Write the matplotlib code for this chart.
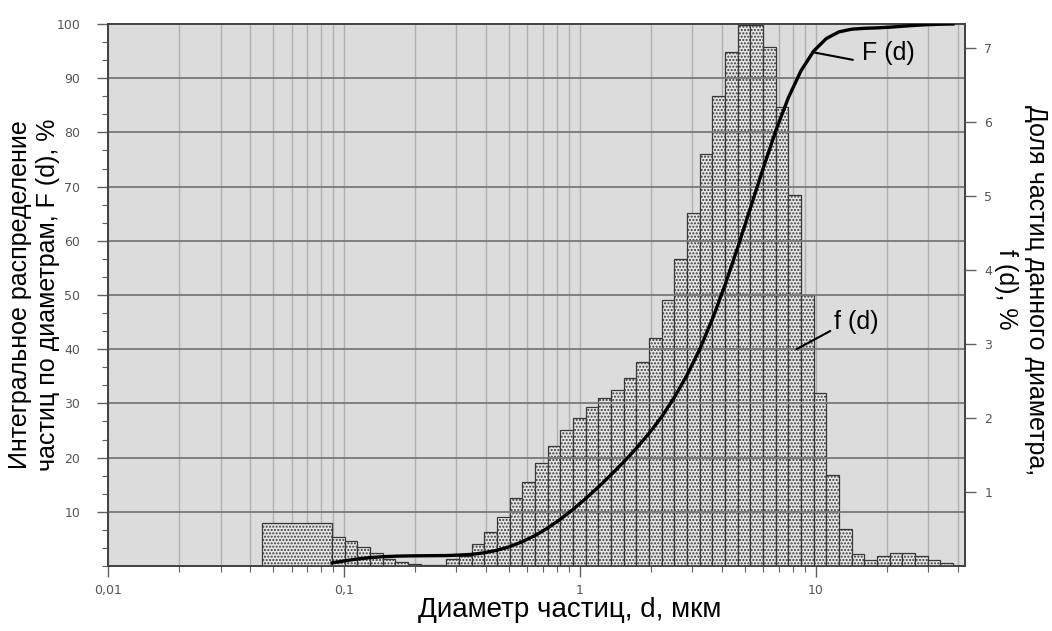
import numpy as np
import matplotlib
matplotlib.use("Agg")
import matplotlib.pyplot as plt
from matplotlib.ticker import FixedLocator, NullFormatter, LogLocator

# bin edges of the size classes, мкм (first class is a wide one)
edges = [0.045, 0.0891, 0.1009, 0.1142, 0.1292, 0.1462, 0.1655, 0.1873, 0.2120,
         0.2399, 0.2715, 0.3072, 0.3476, 0.3934, 0.4452, 0.5038, 0.5702, 0.6453,
         0.7303, 0.8265, 0.9353, 1.0583, 1.1978, 1.3555, 1.5340, 1.7361, 1.9646,
         2.2233, 2.5159, 2.8479, 3.2226, 3.6468, 4.1277, 4.6710, 5.2856, 5.9812,
         6.7701, 7.6614, 8.6696, 9.8130, 11.105, 12.566, 14.220, 16.095, 18.214,
         20.611, 23.331, 26.403, 29.878, 33.81, 38.26]

# share of particles in each class, f(d), %
share = [0.577, 0.385, 0.338, 0.255, 0.171, 0.097, 0.05, 0.025, 0.02, 0.02,
         0.09, 0.13, 0.293, 0.464, 0.666, 0.914, 1.139, 1.396, 1.621, 1.837,
         1.995, 2.143, 2.273, 2.377, 2.543, 2.76, 3.075, 3.593, 4.15, 4.764,
         5.565, 6.35, 6.946, 7.31, 7.31, 7.006, 6.195, 5.011, 3.66, 2.33,
         1.23, 0.50, 0.16, 0.08, 0.13, 0.17, 0.17, 0.13, 0.08, 0.045]

xticks = [0.01, 0.1, 1, 10]
xtick_labels = ["0,01", "0,1", "1", "10"]
left_ticks = [10, 20, 30, 40, 50, 60, 70, 80, 90, 100]
right_ticks = [1, 2, 3, 4, 5, 6, 7]

edges = np.array(edges)
share = np.array(share)
# integral distribution F(d) from the class shares
F = np.cumsum(share) / share.sum() * 100

plt.rcParams['hatch.linewidth'] = 1.0

fig = plt.figure(figsize=(10.52, 6.31), dpi=100)
ax = fig.add_axes([0.1027, 0.103, 0.8146, 0.859])
ax2 = ax.twinx()

# right axis: bars + vertical grid, sits behind
ax2.set_zorder(1)
ax.set_zorder(2)
ax.patch.set_visible(False)
ax2.patch.set_visible(True)
ax2.set_facecolor('#dcdcdc')

ax2.bar(edges[:-1], share, width=np.diff(edges), align='edge',
        facecolor='#e6e6e6', edgecolor='#383838', hatch='.....', linewidth=0.9,
        zorder=3)

ax.set_xscale('log')
ax.set_xlim(0.01, 43)
ax.set_ylim(0, 100)
ax2.set_ylim(0, 7.32)

ax2.xaxis.set_visible(True)
ax2.tick_params(axis='x', which='both', bottom=False, top=False,
                labelbottom=False, labeltop=False)
ax2.grid(axis='x', which='both', color='#b0b0b0', linewidth=1.0, zorder=0)
ax2.set_axisbelow(True)

# left axis: horizontal grid over bars, F(d) line
ax.grid(axis='y', which='major', color='#787878', linewidth=1.3)
ax.plot(edges[1:], F, color='black', linewidth=2.4, zorder=5)

ax.xaxis.set_major_locator(FixedLocator(xticks))
ax.set_xticklabels(xtick_labels)
ax.xaxis.set_minor_locator(LogLocator(base=10, subs=np.arange(2, 10), numticks=20))
ax.xaxis.set_minor_formatter(NullFormatter())

ax.set_yticks(left_ticks)
ax.set_yticks(np.arange(0, 100, 10 / 3), minor=True)
ax2.set_yticks(right_ticks)

tick_color = '#555555'
for a in (ax, ax2):
    a.tick_params(axis='both', which='major', direction='out', length=8,
                  width=1, color='#606060', labelcolor=tick_color, labelsize=9)
    a.tick_params(axis='both', which='minor', direction='out', length=4,
                  width=0.8, color='#606060')
    for s in a.spines.values():
        s.set_color('#404040')
        s.set_linewidth(1.2)
ax.tick_params(axis='y', which='major', pad=12)
ax2.tick_params(axis='y', which='major', pad=6)
ax.tick_params(axis='x', which='major', length=8, pad=5)

for lbl in ax.get_xticklabels() + ax.get_yticklabels() + ax2.get_yticklabels():
    lbl.set_family('DejaVu Sans')

lab_font = dict(family='Liberation Sans', color='black')
ax.set_xlabel("Диаметр частиц, d, мкм", fontsize=20, **lab_font)
ax.xaxis.label.set_va('center')
ax.xaxis.set_label_coords(0.539, -0.081)

ax.set_ylabel("Интегральное распределение\nчастиц по диаметрам, F (d), %",
              fontsize=18, linespacing=1.25, **lab_font)
ax.yaxis.label.set_va('center')
ax.yaxis.label.set_ha('center')
ax.yaxis.set_label_coords(-0.0863, 0.5)

ax2.set_ylabel("Доля частиц данного диаметра,\nf (d), %", rotation=-90,
               fontsize=18, linespacing=1.3, **lab_font)
ax2.yaxis.label.set_rotation_mode('default')
ax2.yaxis.label.set_va('center')
ax2.yaxis.label.set_ha('center')
ax2.yaxis.set_label_coords(1.0655, 0.51)

ax.annotate("F (d)", xy=(9.7, 94.8), xytext=(15.8, 94.6),
            ha='left', va='center', family='Liberation Sans', fontsize=18,
            arrowprops=dict(arrowstyle='-', color='black', lw=1.5,
                            relpos=(0, 0.15), shrinkA=5, shrinkB=0))
ax.annotate("f (d)", xy=(8.3, 40.0), xytext=(12.0, 45.0),
            ha='left', va='center', family='Liberation Sans', fontsize=18,
            arrowprops=dict(arrowstyle='-', color='black', lw=1.5,
                            relpos=(0, 0.22), shrinkA=1, shrinkB=0))

fig.savefig("out.png", dpi=100, facecolor='white')
